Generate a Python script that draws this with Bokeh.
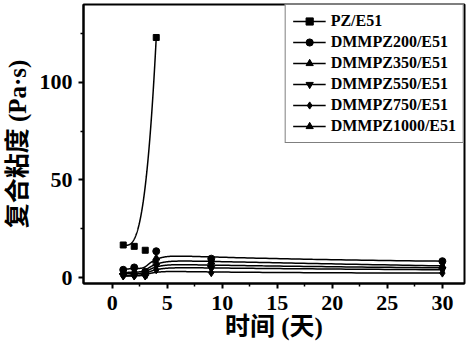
import numpy as np
from bokeh.plotting import figure
from bokeh.models import Range1d, Legend, LegendItem, FixedTicker, ColumnDataSource
from bokeh.embed import file_html
from bokeh.resources import INLINE

# ---- data ----
days_pz = [1, 2, 3, 4]
pz_e51 = [16.7, 16.0, 14.0, 123.0]

days = [1, 2, 3, 4, 9, 30]
dmmpz200 = [4.0, 5.2, 3.0, 13.5, 9.7, 8.4]
dmmpz350 = [2.5, 3.0, 2.0, 10.0, 8.0, 6.0]
dmmpz550 = [1.0, 1.0, 1.0, 6.0, 4.7, 4.0]
dmmpz750 = [0.8, 0.8, 0.8, 4.0, 2.5, 2.3]
dmmpz1000 = [2.0, 2.0, 1.5, 8.0, 6.0, 5.0]

series_names = ["PZ/E51", "DMMPZ200/E51", "DMMPZ350/E51",
                "DMMPZ550/E51", "DMMPZ750/E51", "DMMPZ1000/E51"]

x_ticks = [0, 5, 10, 15, 20, 25, 30]
x_minor = [2.5, 7.5, 12.5, 17.5, 22.5, 27.5]
y_ticks = [0, 50, 100]
y_minor = [25, 75, 125]


def bspline_basis(knots, k, t):
    m = len(knots) - 1
    B = np.zeros((len(t), m))
    for i in range(m):
        B[:, i] = ((knots[i] <= t) & (t < knots[i + 1])).astype(float)
    for p in range(1, k + 1):
        Bn = np.zeros((len(t), m - p))
        for i in range(m - p):
            d1 = knots[i + p] - knots[i]
            d2 = knots[i + p + 1] - knots[i + 1]
            a = (t - knots[i]) / d1 * B[:, i] if d1 > 0 else 0.0
            b = (knots[i + p + 1] - t) / d2 * B[:, i + 1] if d2 > 0 else 0.0
            Bn[:, i] = a + b
        B = Bn
    return B


def bspline(xs, ys, n=300, k=3):
    P = np.column_stack([xs, ys]).astype(float)
    m = len(P)
    knots = np.concatenate([np.zeros(k), np.linspace(0, 1, m - k + 1), np.ones(k)])
    t = np.linspace(0, 1, n)
    t[-1] = 1 - 1e-9
    B = bspline_basis(knots, k, t)
    C = B @ P
    return C[:, 0], C[:, 1]


p = figure(width=466, height=342,
           x_range=Range1d(-2.61, 32.01), y_range=Range1d(-3.03, 139.9),
           output_backend="svg", toolbar_location=None,
           min_border_left=80, min_border_right=2,
           min_border_top=4, min_border_bottom=55)

p.xgrid.visible = False
p.ygrid.visible = False
p.outline_line_color = "black"
p.outline_line_width = 2
p.outline_line_alpha = 1.0
p.background_fill_color = "white"

label_font = "Liberation Serif, Noto Sans CJK SC"

for ax in (p.xaxis[0], p.yaxis[0]):
    ax.axis_line_width = 2
    ax.axis_line_color = "black"
    ax.major_tick_line_width = 2
    ax.major_tick_line_color = "black"
    ax.minor_tick_line_width = 1.5
    ax.minor_tick_line_color = "black"
    ax.major_tick_in = 0
    ax.major_tick_out = 5
    ax.minor_tick_in = 0
    ax.minor_tick_out = 3
    ax.major_label_text_font = "Liberation Serif"
    ax.major_label_text_font_style = "bold"
    ax.major_label_text_font_size = "22px"
    ax.major_label_text_color = "black"
    ax.axis_label_text_font = label_font
    ax.axis_label_text_font_style = "bold"
    ax.axis_label_text_font_size = "25px"
    ax.axis_label_text_color = "black"

p.xaxis.ticker = FixedTicker(ticks=x_ticks, minor_ticks=x_minor)
p.yaxis.ticker = FixedTicker(ticks=y_ticks, minor_ticks=y_minor)
p.xaxis.axis_label = "时间 (天)"
p.yaxis.axis_label = "复合粘度 (Pa·s)"
p.xaxis.major_label_standoff = 7
p.yaxis.major_label_standoff = 6
p.xaxis.axis_label_standoff = 0
p.yaxis.axis_label_standoff = 6

all_series = [
    (days_pz, pz_e51, "square", 0.0, 6),
    (days, dmmpz200, "circle", 0.0, 7),
    (days, dmmpz350, "triangle", 0.0, 7),
    (days, dmmpz550, "inverted_triangle", 0.0, 7),
    (days, dmmpz750, "diamond", 0.0, 8),
    (days, dmmpz1000, "triangle", np.pi / 2, 7),
]

items = []
for (xs, ys, marker, ang, sz), name in zip(all_series, series_names):
    cx, cy = bspline(xs, ys)
    r_line = p.line(cx, cy, line_color="black", line_width=1.5)
    src = ColumnDataSource(data=dict(x=list(xs), y=list(ys),
                                     ang=[ang] * len(xs)))
    r_pts = p.scatter("x", "y", source=src, marker=marker, size=sz,
                      angle="ang", fill_color="black", line_color="black")
    items.append(LegendItem(label=name, renderers=[r_line, r_pts]))

legend = Legend(items=items, location="top_right")
legend.label_text_font = "Liberation Serif"
legend.label_text_font_style = "bold"
legend.label_text_font_size = "16px"
legend.label_text_color = "black"
legend.border_line_color = "black"
legend.border_line_width = 1.5
legend.background_fill_color = "white"
legend.background_fill_alpha = 1.0
legend.margin = 0
legend.padding = 7
legend.spacing = 3
legend.glyph_width = 33
legend.glyph_height = 18
legend.label_height = 18
legend.label_standoff = 5
p.add_layout(legend)

open("out.html", "w").write(file_html(p, INLINE))
